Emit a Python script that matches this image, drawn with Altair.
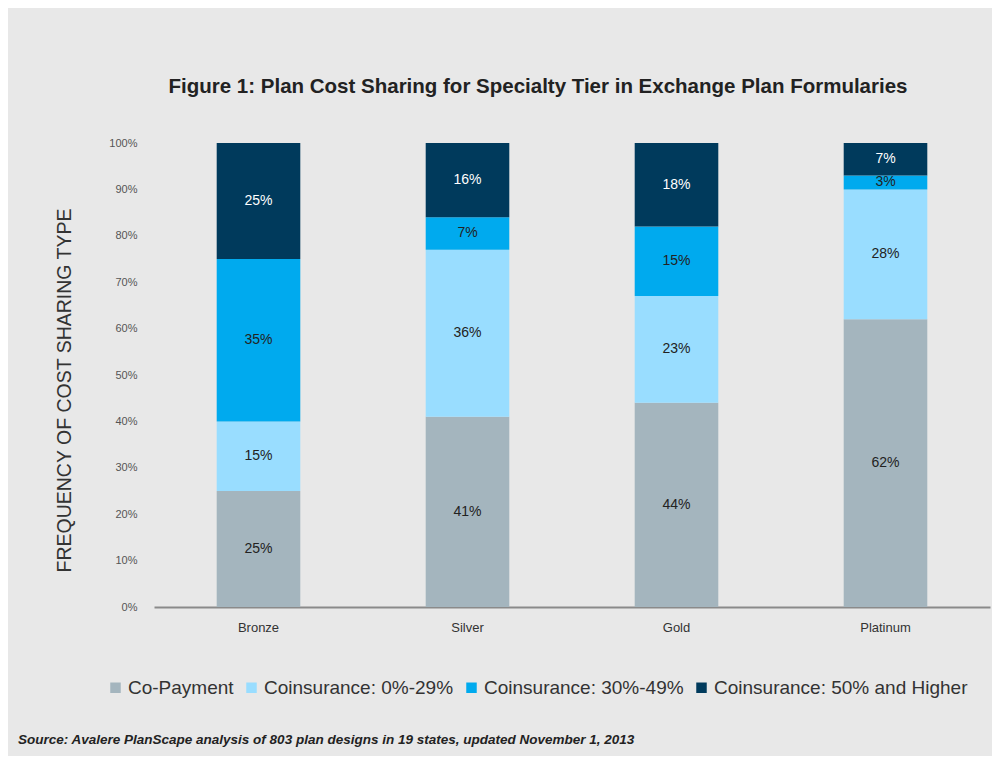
import altair as alt
import pandas as pd

tiers = ["Bronze", "Silver", "Gold", "Platinum"]
types = ["Co-Payment", "Coinsurance: 0%-29%", "Coinsurance: 30%-49%", "Coinsurance: 50% and Higher"]
colors = ["#a4b5be", "#99ddff", "#00aaee", "#003a5c"]
copay = [25, 41, 44, 62]
coins_low = [15, 36, 23, 28]
coins_mid = [35, 7, 15, 3]
coins_high = [25, 16, 18, 7]

rows = []
for i, t in enumerate(tiers):
    for j, (name, vals) in enumerate(zip(types, [copay, coins_low, coins_mid, coins_high])):
        rows.append({"tier": t, "type": name, "order": j, "value": vals[i],
                     "label": f"{vals[i]}%"})
df = pd.DataFrame(rows)

FONT = "Liberation Sans"

base = alt.Chart(df).transform_stack(
    stack="value", groupby=["tier"], sort=[alt.SortField("order", order="ascending")],
    as_=["y0", "y1"]
).transform_calculate(
    mid="(datum.y0 + datum.y1) / 2 / 100",
    ys0="datum.y0 / 100",
    ys1="datum.y1 / 100",
)

x_enc = alt.X("tier:N", sort=tiers, title=None,
              scale=alt.Scale(paddingInner=0.6, paddingOuter=0.3),
              axis=alt.Axis(labelAngle=0, labelFontSize=13, labelColor="#333", labelFont=FONT,
                            ticks=False, domainColor="#8a8a8a", domainWidth=2, labelPadding=14))

bars = base.mark_bar().encode(
    x=x_enc,
    y=alt.Y("ys0:Q", title="FREQUENCY OF COST SHARING TYPE",
            scale=alt.Scale(domain=[0, 1], nice=False),
            axis=alt.Axis(format="%", values=[i / 10 for i in range(11)], grid=False,
                          domain=False, ticks=False, labelFontSize=11, labelColor="#555",
                          labelFont=FONT, labelPadding=17, titleFontSize=19.5,
                          titleFont=FONT, titleFontWeight="normal", titleColor="#333",
                          titlePadding=34, titleY=247)),
    y2="ys1:Q",
    color=alt.Color("type:N", sort=types, scale=alt.Scale(domain=types, range=colors),
                    legend=alt.Legend(title=None, orient="none", direction="horizontal",
                                      legendX=-48, legendY=535, symbolType="square",
                                      symbolSize=110, symbolStrokeWidth=0, labelLimit=500,
                                      labelFontSize=19, labelFont=FONT, labelColor="#333",
                                      columnPadding=8, labelOffset=3)),
)

labels = base.mark_text(fontSize=14, font=FONT, baseline="middle").encode(
    x=alt.X("tier:N", sort=tiers),
    y=alt.Y("mid:Q"),
    text="label:N",
    color=alt.condition(alt.datum.order == 3, alt.value("white"), alt.value("#222")),
)

src = alt.Chart(pd.DataFrame({"t": ["Source: Avalere PlanScape analysis of 803 plan designs in 19 states, updated November 1, 2013"]})).mark_text(
    align="left", baseline="middle", fontSize=13.5, fontStyle="italic", fontWeight="bold",
    font=FONT, color="#222"
).encode(x=alt.value(-136), y=alt.value(597), text="t:N")

chart = alt.layer(bars, labels, src).properties(
    width=836, height=464,
    autosize=alt.AutoSizeParams(type="none"),
    padding={"left": 146, "top": 135, "right": 2, "bottom": 149},
    background="#e8e8e8",
    title=alt.TitleParams("Figure 1: Plan Cost Sharing for Specialty Tier in Exchange Plan Formularies",
                          fontSize=20.5, font=FONT, fontWeight="bold", color="#222",
                          anchor="middle", dx=-34, offset=40),
).configure_view(stroke=None)

chart.save("out.html", embed_options={"renderer": "svg", "actions": False})
